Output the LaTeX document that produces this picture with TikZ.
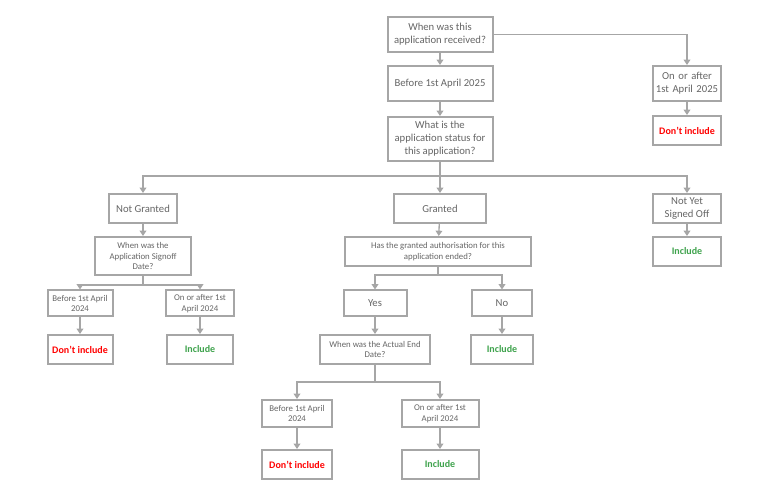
\documentclass[tikz,border=0pt]{standalone}
\usepackage{fontspec}
\setmainfont{Carlito}
\usetikzlibrary{arrows.meta}
\definecolor{bd}{HTML}{A6A6A6}
\definecolor{tx}{HTML}{666666}
\definecolor{rd}{HTML}{FF0000}
\definecolor{gn}{HTML}{3FA34D}
\begin{document}
\begin{tikzpicture}[x=0.75pt,y=-0.75pt,
 box/.style={draw=bd,line width=1.5pt,fill=white,text=tx,align=center,inner sep=1pt,font=\fontsize{8}{9.8}\selectfont},
 sm/.style={box,font=\fontsize{6.6}{8}\selectfont},
 res/.style={box,font=\bfseries\fontsize{7.5}{9}\selectfont},
 ar/.style={draw=bd,line width=1pt,-{Triangle[length=4pt,width=5pt]}},
 ln/.style={draw=bd,line width=1pt}]
\useasboundingbox (0,0) rectangle (776,499);
\node[box,minimum width=78.75pt,minimum height=26.25pt] (q1) at (440,34.5) {When was this\\application received?};
\node[box,minimum width=78.75pt,minimum height=26.25pt] (b25) at (440,83.5) {Before 1st April 2025};
\node[box,minimum width=78.75pt,minimum height=33pt] (q2) at (440,139) {What is the\\application status for\\this application?};
\node[box,minimum width=51pt,minimum height=26.25pt,text width=48pt] (a25) at (687,83.5) {On or after 1st April 2025};
\node[res,text=rd,minimum width=51pt,minimum height=21.75pt] (d1) at (687,130.5) {Don’t include};
\node[box,minimum width=51pt,minimum height=21.75pt] (ng) at (143,208.5) {Not Granted};
\node[box,minimum width=69pt,minimum height=21.75pt] (gr) at (440,208.5) {Granted};
\node[box,minimum width=51pt,minimum height=21.75pt] (ny) at (687,208.5) {Not Yet\\Signed Off};
\node[res,text=gn,minimum width=51pt,minimum height=21.75pt] (i1) at (687,251.5) {Include};
\node[sm,minimum width=72pt,minimum height=28.5pt] (q3) at (143,256) {When was the\\Application Signoff\\Date?};
\node[sm,minimum width=48.75pt,minimum height=19.5pt] (b1) at (80,303.5) {Before 1st April\\2024};
\node[sm,minimum width=51pt,minimum height=19.5pt] (a1) at (200,303.5) {On or after 1st\\April 2024};
\node[res,text=rd,minimum width=48.75pt,minimum height=21.75pt] (d2) at (80,349.5) {Don’t include};
\node[res,text=gn,minimum width=49.5pt,minimum height=21.75pt] (i2) at (200,349.5) {Include};
\node[sm,minimum width=140pt,minimum height=21.75pt] (q4) at (438,251.5) {Has the granted authorisation for this\\application ended?};
\node[box,minimum width=47.25pt,minimum height=19.5pt] (y) at (375,303.5) {Yes};
\node[box,minimum width=45pt,minimum height=19.5pt] (n) at (502,303.5) {No};
\node[res,text=gn,minimum width=46.5pt,minimum height=21.75pt] (i3) at (502,349.5) {Include};
\node[sm,minimum width=82.5pt,minimum height=21.75pt] (q5) at (375,349.5) {When was the Actual End\\Date?};
\node[sm,minimum width=52.5pt,minimum height=20.25pt] (b2) at (297,413.5) {Before 1st April\\2024};
\node[sm,minimum width=57.75pt,minimum height=20.25pt] (a2) at (440,413.5) {On or after 1st\\April 2024};
\node[res,text=rd,minimum width=52.5pt,minimum height=21.75pt] (d3) at (297,464.5) {Don’t include};
\node[res,text=gn,minimum width=57.75pt,minimum height=21.75pt] (i4) at (440,464.5) {Include};
\draw[ar] (q1) -- (b25);
\draw[ar] (b25) -- (q2);
\draw[ar] (q1.east) -| (a25.north);
\draw[ar] (a25) -- (d1);
\coordinate (j1) at (440,176);
\draw[ln] (q2.south) -- (j1);
\draw[ar] (j1) -| (ng.north);
\draw[ar] (j1) -| (ny.north);
\draw[ar] (q2.south) -- (gr.north);
\draw[ar] (ng) -- (q3);
\draw[ar] (ny) -- (i1);
\draw[ar] (gr) -- (q4);
\coordinate (j2) at (143,285);
\draw[ln] (q3.south) -- (j2);
\draw[ar] (j2) -| (b1.north);
\draw[ar] (j2) -| (a1.north);
\draw[ar] (b1) -- (d2);
\draw[ar] (a1) -- (i2);
\coordinate (j3) at (438,275);
\draw[ln] (q4.south) -- (j3);
\draw[ar] (j3) -| (y.north);
\draw[ar] (j3) -| (n.north);
\draw[ar] (y) -- (q5);
\draw[ar] (n) -- (i3);
\coordinate (j4) at (375,382);
\draw[ln] (q5.south) -- (j4);
\draw[ar] (j4) -| (b2.north);
\draw[ar] (j4) -| (a2.north);
\draw[ar] (b2) -- (d3);
\draw[ar] (a2) -- (i4);
\end{tikzpicture}
\end{document}
